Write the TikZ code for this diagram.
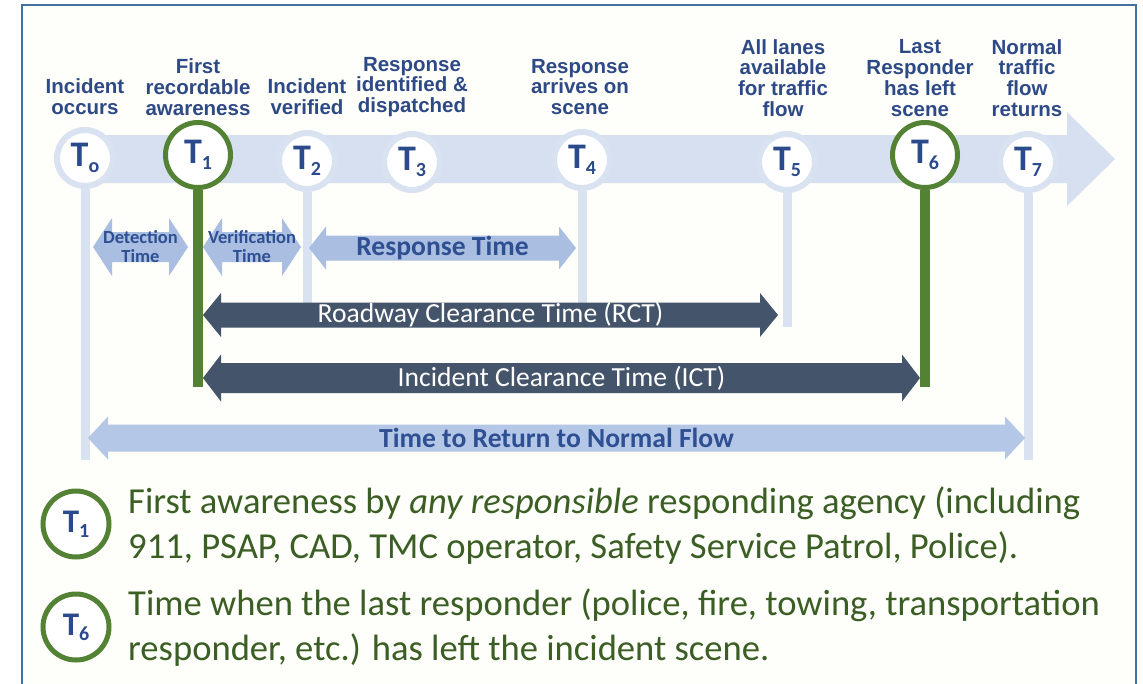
\documentclass[tikz,border=0pt]{standalone}
\usepackage{fontspec}
\setmainfont{Carlito}
\newfontfamily\arialfont{Liberation Sans}
\usetikzlibrary{calc}

\definecolor{framecol}{HTML}{41719C}
\definecolor{paper}{HTML}{FEFEFA}
\definecolor{bandcol}{HTML}{D6E0F0}
\definecolor{ringcol}{HTML}{D8E2F1}
\definecolor{labelcol}{HTML}{2E4A86}
\definecolor{tcol}{HTML}{2B4A8B}
\definecolor{arrowtxt}{HTML}{2F4F93}
\definecolor{lightarr}{HTML}{A9BEE1}
\definecolor{flowarr}{HTML}{B4C7E7}
\definecolor{darkarr}{HTML}{44546A}
\definecolor{okgreen}{HTML}{548235}
\definecolor{notegreen}{HTML}{3B5E24}

% T with its index
\newcommand{\Tsub}[2][20]{T\raisebox{-.15em}{\fontsize{#1}{#1}\selectfont #2}}
% block arrow with two heads: fill, left end, right end, shaft half, head half, head length
\newcommand{\blockarrow}[6]{%
  \fill[#1] (#2) -- ($(#2)+(#6,-#5)$) -- ($(#2)+(#6,-#4)$) -- ($(#3)+(-#6,-#4)$)
    -- ($(#3)+(-#6,-#5)$) -- (#3) -- ($(#3)+(-#6,#5)$) -- ($(#3)+(-#6,#4)$)
    -- ($(#2)+(#6,#4)$) -- ($(#2)+(#6,#5)$) -- cycle;}

\begin{document}
\begin{tikzpicture}[x=1pt,y=-1pt,
  ring/.style={circle,draw=ringcol,line width=6pt,fill=white,minimum size=56pt,inner sep=0pt,
    text=tcol,font=\bfseries\fontsize{36}{36}\selectfont},
  gring/.style={ring,draw=okgreen,line width=5pt,minimum size=65pt},
  vline/.style={ringcol,line width=9pt},
  gline/.style={okgreen,line width=10pt},
  toplabel/.style={align=center,text=labelcol,inner sep=0pt,
    font=\arialfont\bfseries\fontsize{20.5}{20.8}\selectfont},
  smalltxt/.style={align=center,text=arrowtxt,inner sep=0pt,
    font=\bfseries\fontsize{18.5}{19}\selectfont},
  bigtxt/.style={text=arrowtxt,inner sep=0pt,font=\bfseries\fontsize{27.6}{27.6}\selectfont},
  darktxt/.style={text=white,inner sep=0pt,font=\fontsize{27.6}{27.6}\selectfont},
  key/.style={gring,minimum size=66pt,font=\bfseries\fontsize{33}{33}\selectfont},
  note/.style={anchor=west,align=left,text=notegreen,inner sep=0pt,
    font=\fontsize{36.6}{45}\selectfont}]
\useasboundingbox (0,0) rectangle (1143,683);

% frame, open at the bottom
\fill[paper] (22,5) rectangle (1136,700);
\draw[framecol,line width=2pt] (22,700) -- (22,5) -- (1136,5) -- (1136,700);

% time line
\fill[bandcol] (85,135) -- (1067,135) -- (1067,112) -- (1115,159) -- (1067,206)
  -- (1067,183) -- (85,183) -- cycle;

\node[ring] (t0) at (85,158) {\Tsub{o}};
\node[gring] (t1) at (198,155) {\Tsub{1}};
\node[ring] (t2) at (307,161) {\Tsub{2}};
\node[ring] (t3) at (412,162) {\Tsub{3}};
\node[ring] (t4) at (582,160) {\Tsub{4}};
\node[ring] (t5) at (787,162) {\Tsub{5}};
\node[gring] (t6) at (925,155) {\Tsub{6}};
\node[ring] (t7) at (1028,162) {\Tsub{7}};

\node[toplabel] (l0) at (85,97) {Incident\\occurs};
\node[toplabel] (l1) at (198,87) {First\\recordable\\awareness};
\node[toplabel] (l2) at (307,97) {Incident\\verified};
\node[toplabel] (l3) at (412,87) {Response\\identified \&\\dispatched};
\node[toplabel] (l4) at (580,87) {Response\\arrives on\\scene};
\node[toplabel] (l5) at (783,78) {All lanes\\available\\for traffic\\flow};
\node[toplabel] (l6) at (920,78) {Last\\Responder\\has left\\scene};
\node[toplabel] (l7) at (1027,78) {Normal\\traffic\\flow\\returns};

% drop lines
\coordinate (e0) at (85,460);
\coordinate (e2) at (307,305);
\coordinate (e4) at (582,303);
\coordinate (e5) at (787,327);
\coordinate (e7) at (1028,460);
\coordinate (g1) at (198,387);
\coordinate (g6) at (925,387);
\draw[vline] (t0.south) -- (e0);
\draw[vline] (t2.south) -- (e2);
\draw[vline] (t4.south) -- (e4);
\draw[vline] (t5.south) -- (e5);
\draw[vline] (t7.south) -- (e7);
\draw[gline] (t1.south) -- (g1);
\draw[gline] (t6.south) -- (g6);

% spans
\coordinate (detL) at (93,247);  \coordinate (detR) at (188,247);
\coordinate (verL) at (203,247); \coordinate (verR) at (301,247);
\coordinate (resL) at (309,248); \coordinate (resR) at (576,248);
\coordinate (rctL) at (203,315); \coordinate (rctR) at (778,315);
\coordinate (ictL) at (203,378); \coordinate (ictR) at (920,378);
\coordinate (ttrL) at (88,438);  \coordinate (ttrR) at (1025,438);
\blockarrow{lightarr}{detL}{detR}{15}{29}{19}
\blockarrow{lightarr}{verL}{verR}{15}{29}{19}
\blockarrow{lightarr}{resL}{resR}{12.5}{21.5}{17}
\blockarrow{darkarr}{rctL}{rctR}{12.5}{22}{18}
\blockarrow{darkarr}{ictL}{ictR}{15}{23.5}{18}
\blockarrow{flowarr}{ttrL}{ttrR}{13.5}{21.5}{20}

\node[smalltxt] (det) at ($(detL)!.5!(detR)$) {Detection\\Time};
\node[smalltxt] (ver) at ($(verL)!.5!(verR)$) {Verification\\Time};
\node[bigtxt] (res) at ($(resL)!.5!(resR)$) {Response Time};
\node[darktxt] (rct) at ($(rctL)!.5!(rctR)$) {Roadway Clearance Time (RCT)};
\node[darktxt] (ict) at ($(ictL)!.5!(ictR)$) {Incident Clearance Time (ICT)};
\node[bigtxt] (ttr) at ($(ttrL)!.5!(ttrR)$) {Time to Return to Normal Flow};

% notes
\node[key] (k1) at (76,524) {\Tsub[20]{1}};
\node[key] (k6) at (76,627) {\Tsub[20]{6}};
\node[note] (n1) at (128,526) {First awareness by \textit{any responsible} responding agency (including\\
  911, PSAP, CAD, TMC operator, Safety Service Patrol, Police).};
\node[note] (n6) at (128,628) {Time when the last responder (police, fire, towing, transportation\\
  responder, etc.) has left the incident scene.};
\end{tikzpicture}
\end{document}
